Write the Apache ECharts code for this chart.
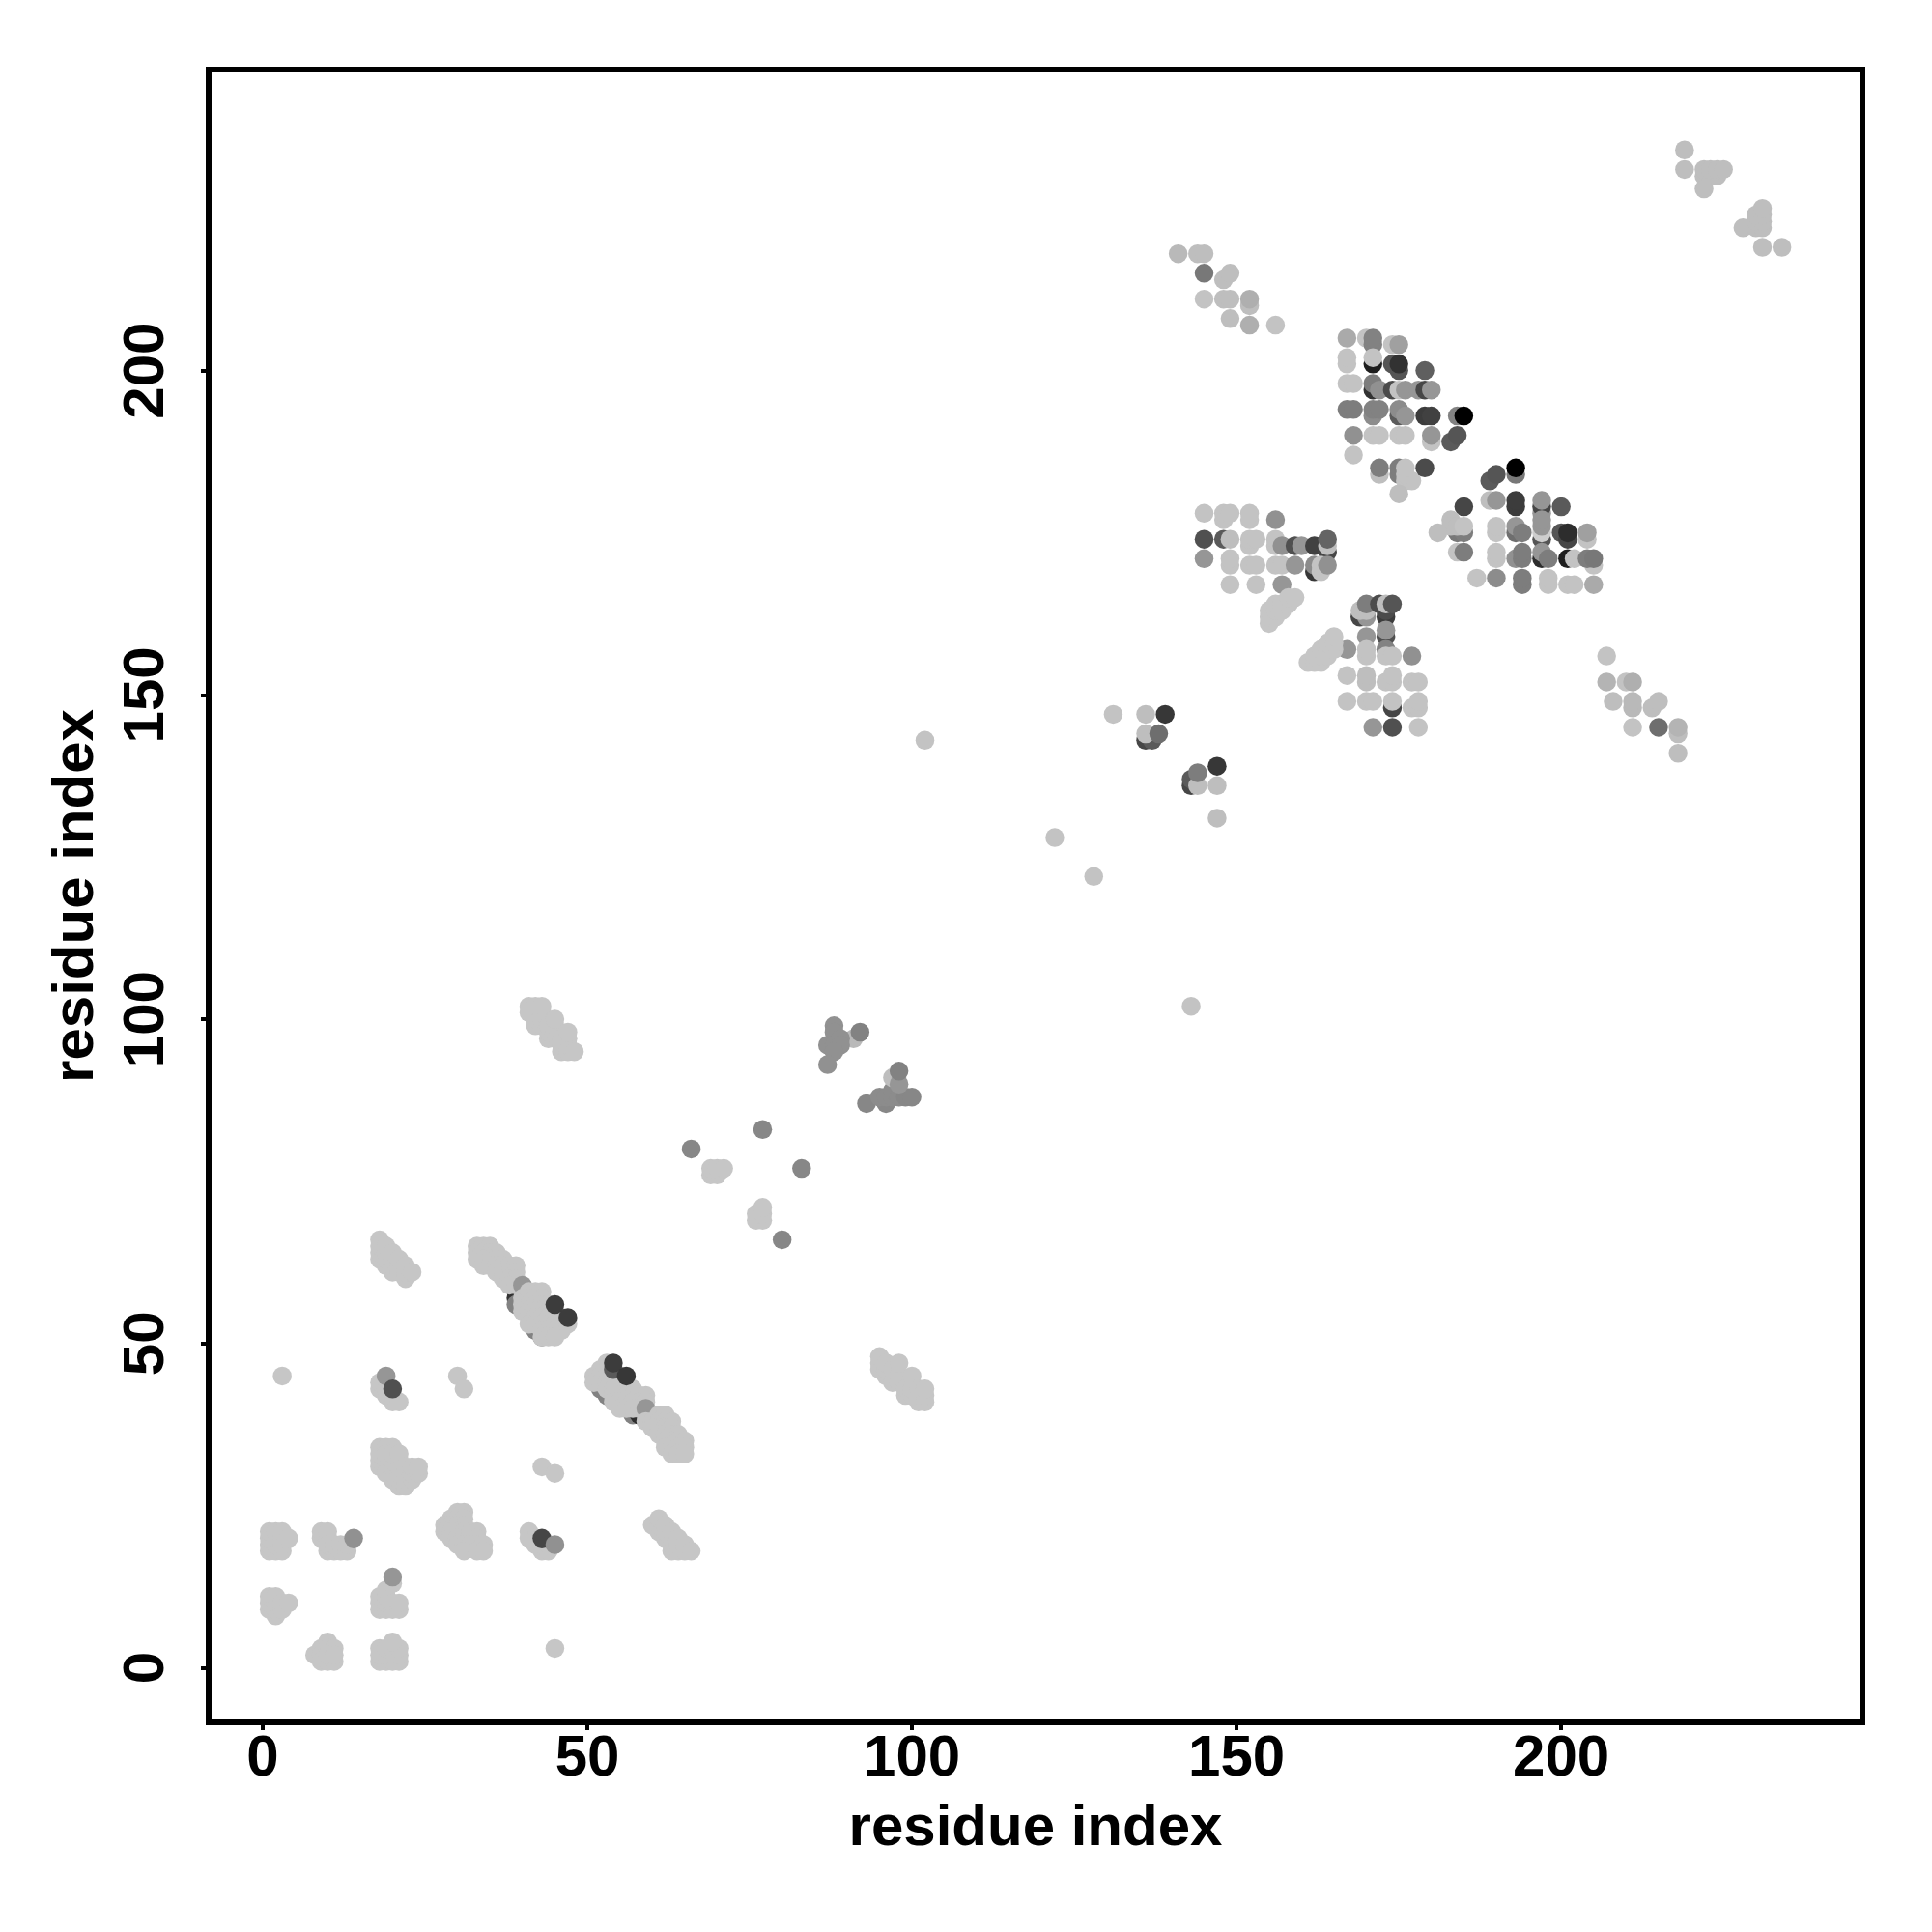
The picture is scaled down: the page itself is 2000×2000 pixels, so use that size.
<!DOCTYPE html>
<html><head><meta charset="utf-8">
<style>html,body{margin:0;padding:0;background:#fff}#c{width:2000px;height:2000px}</style>
<script src="https://cdn.jsdelivr.net/npm/echarts@6/dist/echarts.min.js"></script>
</head><body><div id="c"></div>
<script>
const tickValues=[0,50,100,150,200];
const axisTitle='residue index';
const L=198;
// [residue x, residue y, grey level]
const lowerLeft=[
[8,2,L],[9,3,L],[10,4,L],[9,2,L],[10,3,L],[11,3,L],[9,1,L],[10,1,L],[11,1,L],[10,2,L],[11,2,L],
[18,1,L],[19,1,L],[20,1,L],[21,1,L],[18,2,L],[19,2,L],[20,2,L],[21,2,L],[18,3,L],[19,3,L],[20,3,L],[21,3,L],[20,4,L],[45,3,L],
[1,9,L],[1,10,L],[1,11,L],[2,8,L],[2,9,L],[2,10,L],[2,11,L],[3,9,L],[3,10,L],[4,10,L],
[18,9,L],[18,10,L],[18,11,L],[19,9,L],[19,10,L],[19,11,L],[19,12,L],[20,9,L],[20,10,L],[20,13,L],[21,9,L],[21,10,L],[20,14,150],
[1,18,L],[1,19,L],[1,20,L],[1,21,L],[2,18,L],[2,19,L],[2,20,L],[2,21,L],[3,18,L],[3,19,L],[3,20,L],[3,21,L],[4,20,L],
[9,20,L],[9,21,L],[10,20,L],[10,21,L],[10,18,L],[10,19,L],[11,18,L],[11,19,L],[12,18,L],[12,19,L],[13,18,L],[13,19,L],[14,20,145],
[18,31,L],[18,32,L],[18,33,L],[18,34,L],[19,34,L],[20,34,L],[19,31,L],[19,32,L],[19,33,L],[19,30,L],[20,29,L],[20,30,L],[20,31,L],[20,32,L],[20,33,L],[21,28,L],[21,29,L],[21,30,L],[21,31,L],[21,32,L],[21,33,L],[22,28,L],[22,29,L],[22,30,L],[22,31,L],[23,29,L],[23,30,L],[23,31,L],[24,30,L],[24,31,L],
[43,31,L],[45,30,L],[30,45,L],[31,43,L],[3,45,L],
[18,43,L],[18,44,L],[19,42,L],[19,43,L],[20,41,L],[20,42,L],[21,41,L],[19,45,150],[20,43,80],
[18,63,L],[18,64,L],[18,65,L],[18,66,L],[19,62,L],[19,63,L],[19,64,L],[19,65,L],[20,61,L],[20,62,L],[20,63,L],[20,64,L],[21,61,L],[21,62,L],[21,63,L],[22,60,L],[22,61,L],[22,62,L],[23,61,L],
[60,22,L],[61,21,L],[61,22,L],[61,23,L],[62,20,L],[62,21,L],[62,22,L],[63,18,L],[63,19,L],[63,20,L],[63,21,L],[64,18,L],[64,19,L],[64,20,L],[65,18,L],[65,19,L],[66,18,L],
[41,20,L],[41,21,L],[42,19,L],[42,20,L],[43,18,L],[43,19,L],[44,18,L],[44,19,L],[43,20,70],[45,19,145],
[30,24,L],[31,24,L],[29,23,L],[30,23,L],[31,23,L],[28,22,L],[29,22,L],[30,22,L],[31,22,L],[28,21,L],[29,21,L],[30,21,L],[31,21,L],[29,20,L],[30,20,L],[31,20,L],[32,20,L],[32,21,L],[33,21,L],[33,20,L],[30,19,L],[31,19,L],[32,19,L],[33,19,L],[34,19,L],[31,18,L],[33,18,L],[34,18,L]
];
const bandOne=[
[39,58,120],[39,57,50],[39,56,130],[42,52,130],[43,51,130],[46,54,90],
[33,65,L],[34,65,L],[35,65,L],[33,64,L],[34,64,L],[35,64,L],[36,64,L],[33,63,L],[34,63,L],[35,63,L],[36,63,L],[37,63,L],[34,62,L],[35,62,L],[36,62,L],[37,62,L],[38,62,L],[39,62,L],[36,61,L],[37,61,L],[38,61,L],[39,61,L],[37,60,L],[38,60,L],[39,60,L],[38,59,L],[39,59,L],[40,59,150],
[41,58,L],[42,58,L],[43,58,L],[40,57,L],[41,57,L],[42,57,L],[43,57,L],[40,56,L],[41,56,L],[42,56,L],[43,56,L],[44,56,L],[40,55,L],[41,55,L],[42,55,L],[43,55,L],[44,55,L],[41,54,L],[42,54,L],[43,54,L],[44,54,L],[45,54,L],[41,53,L],[42,53,L],[43,53,L],[44,53,L],[45,53,L],[46,53,L],[43,52,L],[44,52,L],[45,52,L],[46,52,L],[47,53,L],[43,51,L],[44,51,L],[45,51,L],
[45,56,60],[47,54,60]
];
const bandTwo=[
[52,43,130],[53,42,130],[57,39,130],[58,39,45],[59,39,120],
[53,47,L],[52,46,L],[53,46,L],[51,45,L],[52,45,L],[53,45,L],[55,45,L],[51,44,L],[52,44,L],[53,44,L],[54,44,L],[55,44,L],[53,43,L],[54,43,L],[55,43,L],[56,43,L],[57,43,L],[54,42,L],[55,42,L],[56,42,L],[57,42,L],[58,42,L],[59,42,L],[54,41,L],[55,41,L],[56,41,L],[57,41,L],[58,41,L],[59,41,L],[55,40,L],[56,40,L],[57,40,L],[58,40,L],
[54,46,90],[54,47,60],[56,45,55],[59,40,150],
[59,38,L],[61,39,L],[62,39,L],[60,38,L],[61,38,L],[62,38,L],[63,38,L],[60,37,L],[61,37,L],[62,37,L],[63,37,L],[61,36,L],[62,36,L],[63,36,L],[64,36,L],[62,35,L],[63,35,L],[64,35,L],[65,35,L],[62,34,L],[63,34,L],[64,34,L],[65,34,L],[63,33,L],[64,33,L],[65,33,L]
];
const middle=[
[95,46,L],[95,47,L],[95,48,L],[96,45,L],[96,46,L],[96,47,L],[97,44,L],[97,46,L],[98,44,L],[98,45,L],[98,47,L],[99,42,L],[99,43,L],[100,42,L],[100,43,L],[100,45,L],[101,41,L],[101,43,L],[102,41,L],[102,42,L],[102,43,L],
[41,101,L],[41,102,L],[42,99,L],[42,100,L],[42,101,L],[42,102,L],[43,99,L],[43,100,L],[43,101,L],[43,102,L],[44,97,L],[44,98,L],[44,99,L],[45,98,L],[45,99,L],[45,100,L],[46,95,L],[46,96,L],[46,97,L],[47,95,L],[47,96,L],[47,97,L],[47,98,L],[48,95,L],
[91,97,185],[88,99,145],[88,98,145],[87,96,145],[88,96,145],[89,97,145],[89,96,145],[88,95,145],[87,93,145],[92,98,130],
[93,87,135],[96,87,135],[95,88,140],[96,88,140],[97,88,140],[97,89,140],[98,88,140],[99,88,135],[100,88,135],[97,91,190],[98,90,150],[98,92,130],
[66,80,135],[77,83,135],[83,77,135],[80,66,135],
[69,76,L],[70,76,L],[69,77,L],[70,77,L],[71,77,L],[76,69,L],[77,69,L],[76,70,L],[77,70,L],[77,71,L],
[102,143,195],[143,102,195],[122,128,195],[128,122,195],[131,147,195],
[136,147,190],[136,143,70],[137,143,90],[136,144,190],[138,144,110],[139,147,55],
[147,139,55],[143,136,70],[143,137,90],[144,136,190],[144,138,125],[147,136,190],[147,131,190]
];
const topRight=[
[219,234,190],[219,231,190],[222,230,190],[223,230,190],[224,230,190],[222,231,190],[223,231,190],[224,231,190],[225,231,190],[222,228,190],
[228,222,190],[230,222,190],[231,222,190],[230,223,190],[231,223,190],[230,224,190],[231,224,190],[231,225,190],[231,219,190],[234,219,190],
[141,218,185],[144,218,190],[145,218,190],[145,215,120],[148,214,190],[149,215,190],[145,211,195],[148,211,190],[149,211,190],[152,210,190],[152,211,175],[149,208,190],[152,207,175],[156,207,195]
];
const clusterOne=[
[167,205,170],[170,205,195],[171,204,130],[171,205,130],[174,204,195],[175,204,160],
[167,201,195],[167,202,195],[171,201,30],[171,202,195],[174,201,85],[175,200,85],[175,201,50],[179,200,95],
[167,198,195],[168,198,195],[171,197,50],[171,198,125],[172,197,145],[174,197,75],[175,197,195],[176,197,150],[178,197,150],[179,197,70],[180,197,150],
[167,194,125],[168,194,125],[171,193,140],[171,194,130],[172,194,130],[175,193,90],[175,194,140],[176,193,150],[179,193,60],[180,193,65],[184,193,130],[185,193,0],
[168,190,145],[171,190,195],[172,190,195],[175,190,195],[176,190,195],[180,189,195],[180,190,150],[183,189,90],[184,190,85],
[168,187,195],[172,184,190],[172,185,125],[175,184,125],[175,185,125],[176,183,195],[177,183,195],[176,184,195],[176,185,195],[175,181,190],[179,185,75]
];
const clusterTwo=[
[189,183,90],[190,184,85],[193,184,120],[193,185,0],[185,179,70],[189,180,190],[190,180,150],[193,179,60],[193,180,60],
[197,178,150],[197,179,70],[197,180,150],[200,179,90],
[184,175,120],[185,175,125],[183,177,190],[183,176,190],[184,176,190],[185,176,195],[181,175,190],
[190,175,195],[190,176,195],[193,175,110],[193,176,150],[194,175,125],
[197,174,85],[197,175,205],[197,176,150],[197,177,150],[200,175,85],[201,174,70],[201,175,45],[204,174,195],[204,175,160],
[184,172,195],[185,172,125],[190,171,195],[190,172,195],[193,171,145],[194,171,125],[194,172,125],
[197,171,45],[197,172,150],[198,171,125],[201,171,30],[202,171,195],[205,170,195],[204,171,125],[205,171,120],
[187,168,195],[190,168,140],[194,167,125],[194,168,125],[198,167,195],[198,168,195],[201,167,195],[202,167,195],[205,167,170]
];
const clusterThree=[
[145,178,195],[148,177,195],[148,178,195],[149,178,195],[152,177,195],[152,178,195],[156,177,145],
[145,174,80],[148,174,90],[149,174,190],[152,173,195],[152,174,195],[153,174,195],
[156,173,195],[156,174,195],[157,173,145],[159,173,80],[160,173,150],[162,173,65],
[164,172,70],[164,173,190],[164,174,100],[162,169,55],[162,170,140],[163,169,195],[163,170,195],[164,170,145],
[145,171,150],[149,170,195],[149,171,195],[152,170,195],[153,170,195],[156,170,195],[157,170,195],[159,170,150],
[149,167,195],[153,167,195],[157,167,150],
[155,161,L],[155,162,L],[155,163,L],[156,162,L],[156,163,L],[156,164,L],[157,163,L],[157,164,L],[158,164,L],[158,165,L],[159,165,L]
];
const clusterFour=[
[169,162,70],[170,162,150],[169,163,190],[170,163,190],[170,164,125],[173,162,60],[173,163,75],[172,164,75],[173,164,190],[174,164,85],
[173,159,80],[173,160,150],[170,159,150],[167,157,150],[170,156,195],[170,157,195],[173,157,130],[173,156,195],[174,156,195],[177,156,145],
[161,155,L],[162,155,L],[163,155,L],[162,156,L],[163,156,L],[164,156,L],[163,157,L],[164,157,L],[165,157,L],[164,158,L],[165,158,L],[165,159,L],
[167,153,195],[170,152,190],[170,153,190],[173,152,195],[174,152,195],[174,153,195],[177,152,195],[178,152,195],
[167,149,195],[170,149,195],[171,149,195],[174,148,70],[174,149,195],[177,148,195],[178,148,195],[178,149,195],
[171,145,150],[174,145,80],[178,145,195],
[207,156,195],[207,152,180],[210,152,195],[211,152,175],[208,149,190],[211,148,185],[211,149,185],[211,145,195],
[214,148,190],[215,149,190],[215,145,110],[218,144,190],[218,145,180],[218,141,190]
];
const contacts=[].concat(lowerLeft,bandOne,bandTwo,middle,topRight,clusterOne,clusterTwo,clusterThree,clusterFour);
const axisCommon={
  type:'value',nameLocation:'middle',name:axisTitle,
  nameTextStyle:{fontFamily:'Liberation Sans',fontWeight:'bold',fontSize:60,color:'#000'},
  axisLine:{show:false,onZero:false},
  axisTick:{show:true,length:8,inside:false,customValues:tickValues,lineStyle:{color:'#000',width:4}},
  splitLine:{show:false}
};
const labelCommon={fontFamily:'Liberation Sans',fontWeight:'bold',fontSize:60,color:'#000',customValues:tickValues,showMinLabel:true,showMaxLabel:true};
const chart=echarts.init(document.getElementById('c'),null,{renderer:'canvas',width:2000,height:2000});
chart.setOption({
  animation:false,backgroundColor:'#fff',
  grid:{show:true,left:216,top:72,width:1712,height:1711,borderColor:'#000',borderWidth:6,backgroundColor:'transparent',z:5},
  xAxis:Object.assign({},axisCommon,{min:-8.33,max:246.4,nameGap:80,axisLabel:Object.assign({},labelCommon,{margin:8})}),
  yAxis:Object.assign({},axisCommon,{min:-8.4,max:246.4,nameGap:107,axisLabel:Object.assign({},labelCommon,{rotate:90,margin:34})}),
  series:[{type:'scatter',symbol:'circle',symbolSize:19.5,silent:true,large:false,data:contacts,
    itemStyle:{opacity:1,color:p=>{const g=p.value[2];return 'rgb('+g+','+g+','+g+')';}}}]
});
</script></body></html>
